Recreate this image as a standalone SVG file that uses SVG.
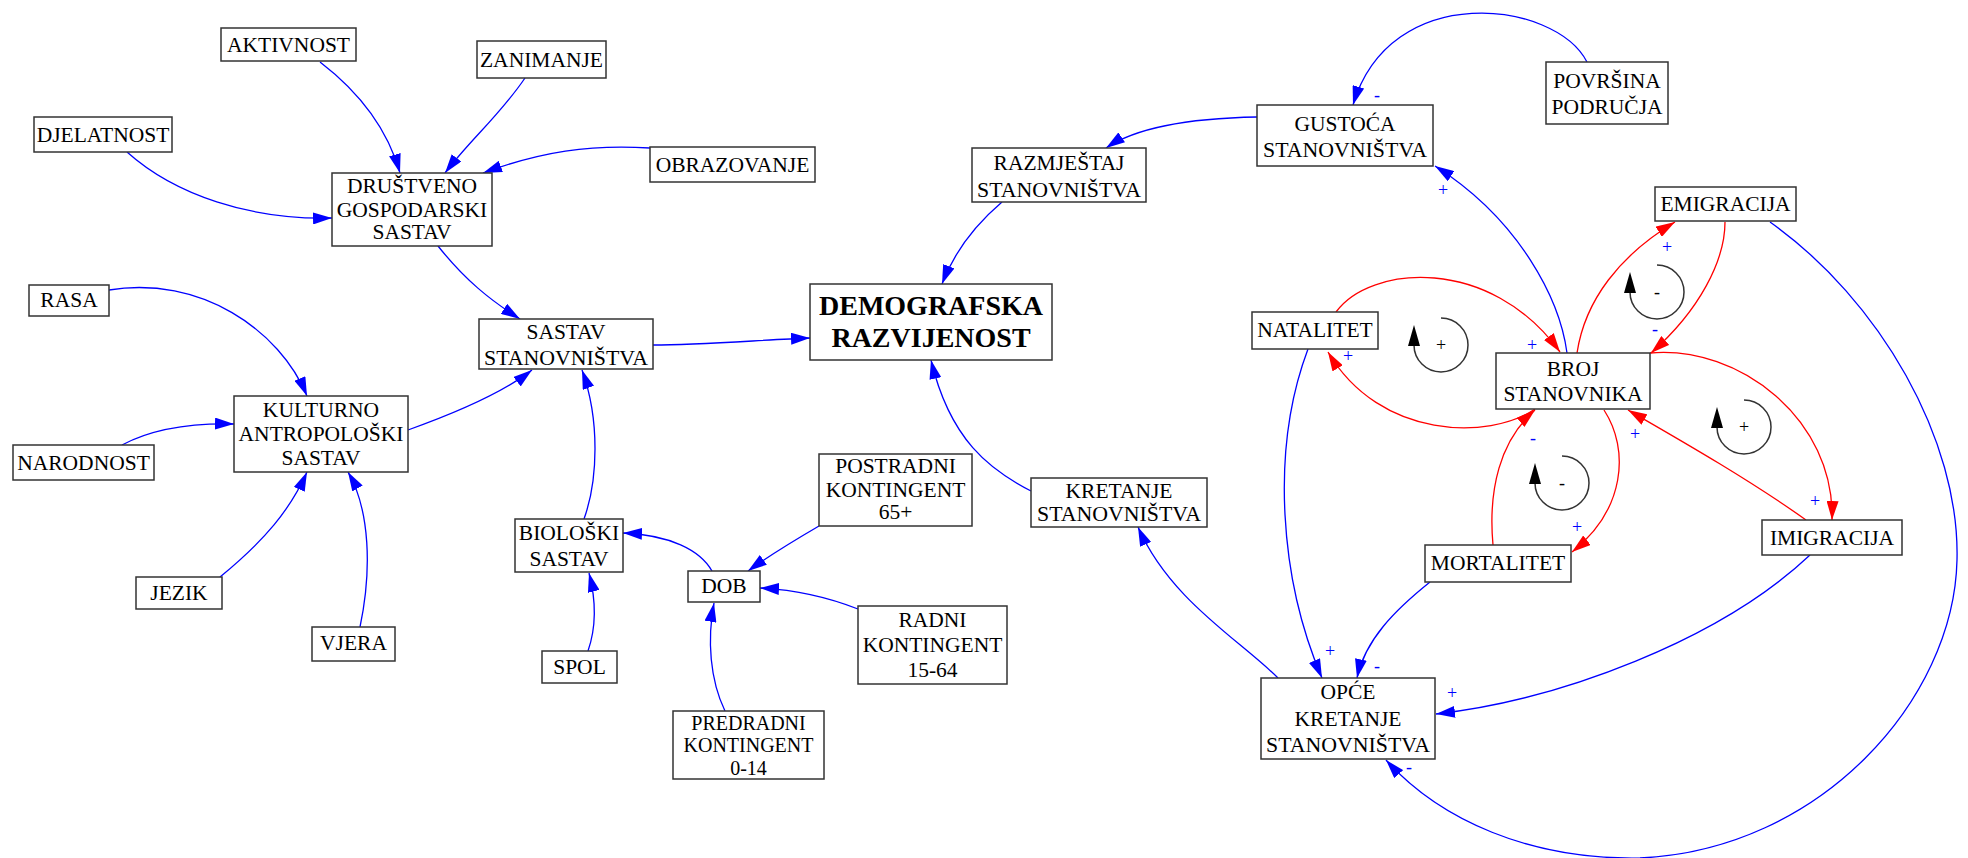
<svg xmlns="http://www.w3.org/2000/svg" width="1968" height="858" viewBox="0 0 1968 858">
<style>
.n rect{fill:#fff;stroke:#333;stroke-width:1.5}
.t{font-family:"Liberation Serif","Times New Roman",serif;font-size:21.5px;text-anchor:middle;fill:#000}
.ts{font-family:"Liberation Serif","Times New Roman",serif;font-size:20px;text-anchor:middle;fill:#000}
.tb{font-family:"Liberation Serif","Times New Roman",serif;font-size:28px;font-weight:bold;text-anchor:middle;fill:#000}
.eb{fill:none;stroke:#0000ff;stroke-width:1.3;marker-end:url(#ab)}
.er{fill:none;stroke:#ff0000;stroke-width:1.3;marker-end:url(#ar)}
.lbl{font-family:"Liberation Serif","Times New Roman",serif;font-size:18px;text-anchor:middle;fill:#0000ff}
.lp{fill:none;stroke:#333;stroke-width:1.5}
.ls{font-family:"Liberation Serif","Times New Roman",serif;font-size:18px;text-anchor:middle;fill:#000}
</style>
<defs>
<marker id="ab" markerUnits="userSpaceOnUse" markerWidth="19" markerHeight="12" refX="19" refY="6" orient="auto"><path d="M0,0 L19,6 L0,12 z" fill="#0000ff"/></marker>
<marker id="ar" markerUnits="userSpaceOnUse" markerWidth="19" markerHeight="12" refX="19" refY="6" orient="auto"><path d="M0,0 L19,6 L0,12 z" fill="#ff0000"/></marker>
<path id="loopArc" d="M0,-27 A27,27 0 1 1 -27,0"/>
</defs>
<rect width="1968" height="858" fill="#fff"/>

<g id="connectors">
<path class="eb" d="M320,62 C350,85 385,120 400,173"/>
<path class="eb" d="M525,78 C500,115 470,140 445,173"/>
<path class="eb" d="M650,148 C590,144 540,152 483,173"/>
<path class="eb" d="M127,152 C175,195 250,220 332,218"/>
<path class="eb" d="M438,246 C465,280 490,300 520,319"/>
<path class="eb" d="M109,290 C200,275 280,330 307,396"/>
<path class="eb" d="M122,445 C150,430 190,423 234,424"/>
<path class="eb" d="M220,577 C265,540 290,510 307,472"/>
<path class="eb" d="M360,627 C372,570 370,510 348,472"/>
<path class="eb" d="M408,430 C450,415 500,395 532,370"/>
<path class="eb" d="M584,519 C598,480 600,420 582,370"/>
<path class="eb" d="M588,651 C597,625 596,600 589,573"/>
<path class="eb" d="M712,571 C700,550 670,535 623,533"/>
<path class="eb" d="M819,526 C795,540 770,555 748,571"/>
<path class="eb" d="M858,609 C830,598 800,590 760,588"/>
<path class="eb" d="M725,711 C710,680 707,640 714,603"/>
<path class="eb" d="M653,345 C700,345 760,340 810,338"/>
<path class="eb" d="M1002,202 C975,225 955,250 942,284"/>
<path class="eb" d="M1031,491 C990,470 950,440 931,360"/>
<path class="eb" d="M1257,117 C1200,118 1140,125 1106,148"/>
<path class="eb" d="M1587,62 C1555,0 1390,-20 1353,105"/>
<path class="eb" d="M1567,353 C1560,300 1520,220 1435,166"/>
<path class="eb" d="M1770,222 C1880,300 1960,440 1957,560 C1954,700 1820,850 1640,858 C1530,860 1440,820 1386,760"/>
<path class="eb" d="M1308,349 C1270,450 1280,580 1322,678"/>
<path class="eb" d="M1430,582 C1395,610 1365,640 1357,678"/>
<path class="eb" d="M1810,555 C1720,640 1560,700 1436,714"/>
<path class="eb" d="M1278,678 C1240,640 1170,600 1138,527"/>
<path class="er" d="M1336,312 C1370,265 1490,255 1560,352"/>
<path class="er" d="M1535,409 C1490,440 1380,440 1328,352"/>
<path class="er" d="M1493,545 C1488,490 1500,440 1535,410"/>
<path class="er" d="M1604,410 C1630,450 1625,510 1572,552"/>
<path class="er" d="M1806,520 C1750,480 1680,440 1628,410"/>
<path class="er" d="M1650,353 C1740,345 1835,420 1832,520"/>
<path class="er" d="M1577,353 C1585,300 1620,255 1675,222"/>
<path class="er" d="M1725,222 C1725,260 1700,310 1651,353"/>
</g>

<g id="edge-labels">
<text class="lbl" x="1377" y="101">-</text>
<text class="lbl" x="1443" y="196">+</text>
<text class="lbl" x="1667" y="253">+</text>
<text class="lbl" x="1655" y="335">-</text>
<text class="lbl" x="1532" y="351">+</text>
<text class="lbl" x="1348" y="362">+</text>
<text class="lbl" x="1533" y="444">-</text>
<text class="lbl" x="1635" y="440">+</text>
<text class="lbl" x="1577" y="533">+</text>
<text class="lbl" x="1815" y="507">+</text>
<text class="lbl" x="1330" y="657">+</text>
<text class="lbl" x="1377" y="672">-</text>
<text class="lbl" x="1452" y="699">+</text>
<text class="lbl" x="1409" y="773">-</text>
</g>

<g id="loops">
<g transform="translate(1441,345)"><use href="#loopArc" class="lp"/><polygon points="-27,-20 -33,1 -21,1" fill="#000"/><text class="ls" x="0" y="6">+</text></g>
<g transform="translate(1657,292)"><use href="#loopArc" class="lp"/><polygon points="-27,-20 -33,1 -21,1" fill="#000"/><text class="ls" x="0" y="6">-</text></g>
<g transform="translate(1744,427)"><use href="#loopArc" class="lp"/><polygon points="-27,-20 -33,1 -21,1" fill="#000"/><text class="ls" x="0" y="6">+</text></g>
<g transform="translate(1562,483)"><use href="#loopArc" class="lp"/><polygon points="-27,-20 -33,1 -21,1" fill="#000"/><text class="ls" x="0" y="6">-</text></g>
</g>

<g id="aktivnost" class="n"><rect x="221" y="28" width="135" height="33"/><text class="t" x="288.5" y="52">AKTIVNOST</text></g>
<g id="zanimanje" class="n"><rect x="477" y="41" width="129" height="37"/><text class="t" x="541.5" y="67">ZANIMANJE</text></g>
<g id="djelatnost" class="n"><rect x="34" y="117" width="138" height="35"/><text class="t" x="103" y="142">DJELATNOST</text></g>
<g id="obrazovanje" class="n"><rect x="650" y="147" width="165" height="35"/><text class="t" x="732.5" y="172">OBRAZOVANJE</text></g>
<g id="drustveno" class="n"><rect x="332" y="173" width="160" height="73"/><text class="t"><tspan x="412" y="193">DRUŠTVENO</tspan><tspan x="412" y="217">GOSPODARSKI</tspan><tspan x="412" y="239">SASTAV</tspan></text></g>
<g id="rasa" class="n"><rect x="29" y="285" width="80" height="31"/><text class="t" x="69" y="307">RASA</text></g>
<g id="sastav" class="n"><rect x="479" y="319" width="174" height="50"/><text class="t"><tspan x="566" y="339">SASTAV</tspan><tspan x="484" y="365" text-anchor="start" textLength="164" lengthAdjust="spacingAndGlyphs">STANOVNIŠTVA</tspan></text></g>
<g id="kulturno" class="n"><rect x="234" y="396" width="174" height="76"/><text class="t"><tspan x="321" y="416.5">KULTURNO</tspan><tspan x="321" y="441">ANTROPOLOŠKI</tspan><tspan x="321" y="465">SASTAV</tspan></text></g>
<g id="narodnost" class="n"><rect x="13" y="445" width="141" height="35"/><text class="t" x="83.5" y="470">NARODNOST</text></g>
<g id="jezik" class="n"><rect x="136" y="577" width="86" height="32"/><text class="t" x="179" y="600">JEZIK</text></g>
<g id="vjera" class="n"><rect x="312" y="627" width="83" height="34"/><text class="t" x="353.5" y="650">VJERA</text></g>
<g id="bioloski" class="n"><rect x="515" y="519" width="108" height="53"/><text class="t"><tspan x="569" y="540">BIOLOŠKI</tspan><tspan x="569" y="565.5">SASTAV</tspan></text></g>
<g id="spol" class="n"><rect x="542" y="651" width="75" height="32"/><text class="t" x="579.5" y="674">SPOL</text></g>
<g id="dob" class="n"><rect x="688" y="571" width="72" height="31"/><text class="t" x="724" y="593">DOB</text></g>
<g id="postradni" class="n"><rect x="819" y="454" width="153" height="72"/><text class="t"><tspan x="895.5" y="473">POSTRADNI</tspan><tspan x="895.5" y="496.5">KONTINGENT</tspan><tspan x="895.5" y="519">65+</tspan></text></g>
<g id="radni" class="n"><rect x="858" y="606" width="149" height="78"/><text class="t"><tspan x="932.5" y="626.5">RADNI</tspan><tspan x="932.5" y="652">KONTINGENT</tspan><tspan x="932.5" y="677">15-64</tspan></text></g>
<g id="predradni" class="n"><rect x="673" y="711" width="151" height="68"/><text class="ts"><tspan x="748.5" y="729.5">PREDRADNI</tspan><tspan x="748.5" y="752">KONTINGENT</tspan><tspan x="748.5" y="774.5">0-14</tspan></text></g>
<g id="demografska" class="n"><rect x="810" y="284" width="242" height="76"/><text class="tb"><tspan x="931" y="315">DEMOGRAFSKA</tspan><tspan x="931" y="347">RAZVIJENOST</tspan></text></g>
<g id="razmjestaj" class="n"><rect x="972" y="148" width="174" height="54"/><text class="t"><tspan x="1059" y="170">RAZMJEŠTAJ</tspan><tspan x="977" y="196.5" text-anchor="start" textLength="164" lengthAdjust="spacingAndGlyphs">STANOVNIŠTVA</tspan></text></g>
<g id="kretanje" class="n"><rect x="1031" y="478" width="176" height="49"/><text class="t"><tspan x="1119" y="498">KRETANJE</tspan><tspan x="1037" y="521" text-anchor="start" textLength="164" lengthAdjust="spacingAndGlyphs">STANOVNIŠTVA</tspan></text></g>
<g id="gustoca" class="n"><rect x="1257" y="105" width="176" height="61"/><text class="t"><tspan x="1345" y="130.5">GUSTOĆA</tspan><tspan x="1263" y="156.5" text-anchor="start" textLength="164" lengthAdjust="spacingAndGlyphs">STANOVNIŠTVA</tspan></text></g>
<g id="povrsina" class="n"><rect x="1546" y="62" width="122" height="62"/><text class="t"><tspan x="1607" y="88">POVRŠINA</tspan><tspan x="1607" y="114">PODRUČJA</tspan></text></g>
<g id="emigracija" class="n"><rect x="1655" y="187" width="141" height="34"/><text class="t" x="1725.5" y="210.5">EMIGRACIJA</text></g>
<g id="natalitet" class="n"><rect x="1252" y="312" width="126" height="37"/><text class="t" x="1315" y="337">NATALITET</text></g>
<g id="broj" class="n"><rect x="1496" y="353" width="154" height="56"/><text class="t"><tspan x="1573" y="375.5">BROJ</tspan><tspan x="1573" y="400.5">STANOVNIKA</tspan></text></g>
<g id="imigracija" class="n"><rect x="1762" y="520" width="140" height="35"/><text class="t" x="1832" y="545">IMIGRACIJA</text></g>
<g id="mortalitet" class="n"><rect x="1425" y="545" width="146" height="37"/><text class="t" x="1498" y="570">MORTALITET</text></g>
<g id="opce" class="n"><rect x="1261" y="678" width="174" height="81"/><text class="t"><tspan x="1348" y="699">OPĆE</tspan><tspan x="1348" y="725.5">KRETANJE</tspan><tspan x="1266" y="751.5" text-anchor="start" textLength="164" lengthAdjust="spacingAndGlyphs">STANOVNIŠTVA</tspan></text></g>
</svg>
